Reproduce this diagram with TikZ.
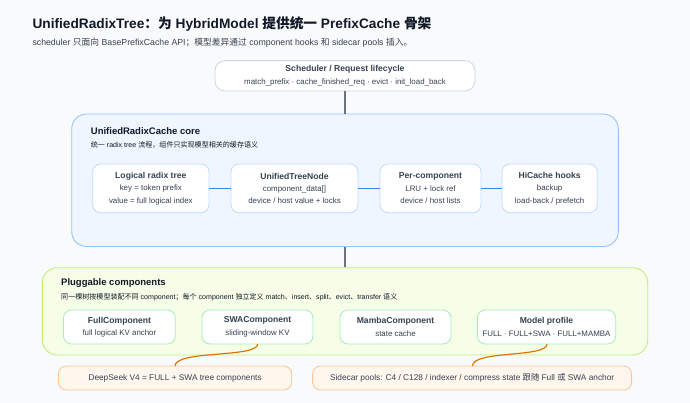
\documentclass[tikz,border=0pt]{standalone}
\usepackage{fontspec}
\setmainfont{Liberation Sans}
\newfontfamily\cjk{Noto Sans CJK SC}
\newcommand{\zh}[1]{{\cjk #1}}
\newcommand{\bt}[1]{{\fontsize{8.6}{12.4}\selectfont\bfseries #1}}
\definecolor{bg}{HTML}{F8FAFC}
\definecolor{ink}{HTML}{111827}
\definecolor{sub}{HTML}{374151}
\definecolor{schedB}{HTML}{D1D5DB}
\definecolor{coreF}{HTML}{EFF6FF}
\definecolor{coreB}{HTML}{93C5FD}
\definecolor{innB}{HTML}{BFDBFE}
\definecolor{blueL}{HTML}{3B82F6}
\definecolor{plugF}{HTML}{F7FEE7}
\definecolor{plugB}{HTML}{C4EC7C}
\definecolor{compB}{HTML}{A3EDBD}
\definecolor{orF}{HTML}{FFF7ED}
\definecolor{orB}{HTML}{FCC590}
\definecolor{orL}{HTML}{D97706}
\definecolor{grayL}{HTML}{6B7280}
\begin{document}
\begin{tikzpicture}[x=1pt,y=-1pt,
  box/.style={draw, rounded corners=8pt, line width=0.8pt, fill=white, align=center,
    inner sep=0pt, text=sub, font=\fontsize{7.9}{12.4}\selectfont},
  innerbox/.style={box, draw=innB},
  compbox/.style={box, draw=compB},
  orbox/.style={box, draw=orB, fill=orF, font=\fontsize{8.3}{12}\selectfont},
  group/.style={draw, rounded corners=15pt, line width=0.9pt, inner sep=0pt},
  grptitle/.style={anchor=west, inner sep=0pt, text=ink, font=\fontsize{9.5}{11}\selectfont\bfseries},
  grpsub/.style={anchor=west, inner sep=0pt, text=ink, font=\fontsize{7.05}{9}\selectfont},
  vlink/.style={draw=grayL, line width=1.3pt},
  hlink/.style={draw=blueL, line width=1.2pt},
  orlink/.style={draw=orL, line width=1.2pt}
]
\useasboundingbox (0,0) rectangle (690,403);
\fill[bg] (0,0) rectangle (690,403);

% title
\node[anchor=west, inner sep=0pt, text=ink, font=\fontsize{13.7}{16}\selectfont\bfseries] (title) at (32.3,24)
  {UnifiedRadixTree\zh{：为} HybridModel \zh{提供统一} PrefixCache \zh{骨架}};
\node[anchor=west, inner sep=0pt, text=sub, font=\fontsize{8.75}{11}\selectfont] (subtitle) at (32.3,42.7)
  {scheduler \zh{只面向} BasePrefixCache API\zh{；模型差异通过} component hooks \zh{和} sidecar pools \zh{插入。}};

% scheduler
\node[box, draw=schedB, rounded corners=10pt, minimum width=260pt, minimum height=30.3pt] (sched) at (345,75.8)
  {\bt{Scheduler / Request lifecycle}\\match\_prefix · cache\_finished\_req · evict · init\_load\_back};

% core group
\node[group, draw=coreB, fill=coreF, minimum width=546.6pt, minimum height=132.5pt] (core) at (345,180.25) {};
\node[grptitle] (coret) at (90.7,130.7) {UnifiedRadixCache core};
\node[grpsub] (cores) at (90.7,145) {\zh{统一} radix tree \zh{流程，组件只实现模型相关的缓存语义}};

\node[innerbox, minimum width=116.3pt, minimum height=48.7pt] (logical) at (150.85,188.35)
  {\bt{Logical radix tree}\\key = token prefix\\value = full logical index};
\node[innerbox, minimum width=127pt, minimum height=48.7pt] (utn) at (294.5,188.35)
  {\bt{UnifiedTreeNode}\\component\_data[]\\device / host value + locks};
\node[innerbox, minimum width=101pt, minimum height=48.7pt] (percomp) at (430.5,188.35)
  {\bt{Per-component}\\LRU + lock ref\\device / host lists};
\node[innerbox, minimum width=95.3pt, minimum height=48.7pt] (hicache) at (549.65,188.35)
  {\bt{HiCache hooks}\\backup\\load-back / prefetch};

\draw[hlink] (logical) -- (utn);
\draw[hlink] (utn) -- (percomp);
\draw[hlink] (percomp) -- (hicache);

% pluggable group
\node[group, draw=plugB, fill=plugF, minimum width=605.4pt, minimum height=87.3pt] (plug) at (345,311.35) {};
\node[grptitle] (plugt) at (61,283.3) {Pluggable components};
\node[grpsub] (plugs) at (61,297.3) {\zh{同一棵树按模型装配不同} component\zh{；每个} component \zh{独立定义} match\zh{、}insert\zh{、}split\zh{、}evict\zh{、}transfer \zh{语义}};

\node[compbox, minimum width=111.8pt, minimum height=34pt] (full) at (119.4,327)
  {\bt{FullComponent}\\full logical KV anchor};
\node[compbox, minimum width=111pt, minimum height=34pt] (swa) at (257.5,327)
  {\bt{SWAComponent}\\sliding-window KV};
\node[compbox, minimum width=111pt, minimum height=34pt] (mamba) at (395.5,327)
  {\bt{MambaComponent}\\state cache};
\node[compbox, minimum width=138.3pt, minimum height=34pt] (profile) at (546.5,327)
  {\bt{Model profile}\\FULL · FULL+SWA · FULL+MAMBA};

% orange notes
\node[orbox, minimum width=233.4pt, minimum height=24pt] (deepseek) at (175.1,378)
  {DeepSeek V4 = FULL + SWA tree components};
\node[orbox, minimum width=319pt, minimum height=24pt] (sidecar) at (472.1,378)
  {Sidecar pools: C4 / C128 / indexer / compress state \zh{跟随} Full \zh{或} SWA anchor};

% vertical links
\draw[vlink] (sched.south) -- (core.north);
\draw[vlink] (core.south) -- (plug.north);

% orange curves
\coordinate (swaB) at (257.7,344);
\coordinate (dsT) at (175,366);
\coordinate (profB) at (547,344);
\coordinate (scT) at (472.5,366);
\draw[orlink] (swaB) .. controls (257.7,358) and (175,350) .. (dsT);
\draw[orlink] (profB) .. controls (547,358) and (472.5,350) .. (scT);
\end{tikzpicture}
\end{document}
